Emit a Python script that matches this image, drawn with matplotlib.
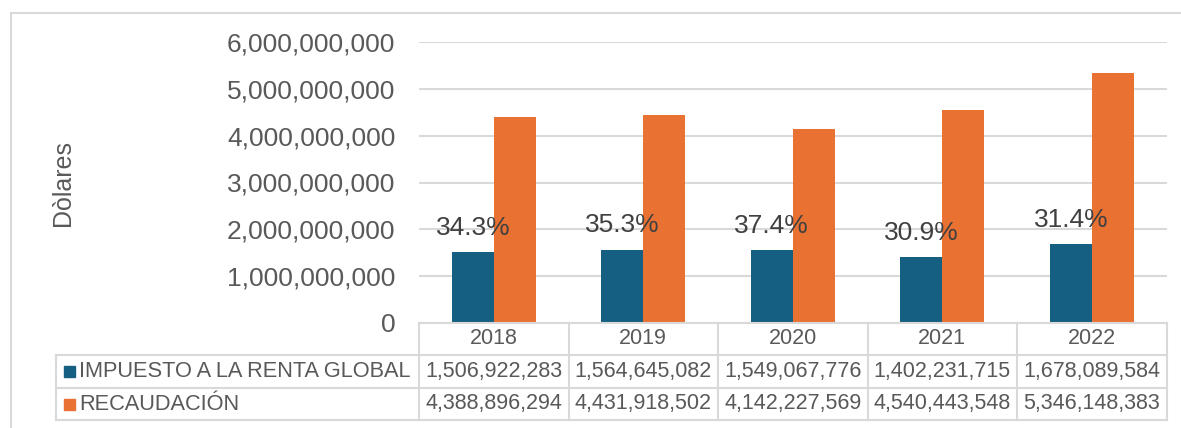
import matplotlib.pyplot as plt
import matplotlib.transforms as mtransforms
from matplotlib.lines import Line2D
from matplotlib.patches import Rectangle

years = ['2018', '2019', '2020', '2021', '2022']
impuesto = [1506922283, 1564645082, 1549067776, 1402231715, 1678089584]
recaudacion = [4388896294, 4431918502, 4142227569, 4540443548, 5346148383]
series_names = ['IMPUESTO A LA RENTA GLOBAL', 'RECAUDACIÓN']
yticks = [0, 1e9, 2e9, 3e9, 4e9, 5e9, 6e9]

BLUE = '#156082'
ORANGE = '#E97132'
GRID = '#D9D9D9'
TXT = '#595959'

plt.rcParams['font.family'] = ['Liberation Sans', 'DejaVu Sans']

W, H = 1181, 428
fig = plt.figure(figsize=(W / 100, H / 100), dpi=100)


def fx(x):
    return x / W


def fy(y):
    return 1 - y / H


# plot area in pixels
left, right, top, bottom = 419, 1166.5, 42, 323
ax = fig.add_axes([fx(left), fy(bottom), fx(right) - fx(left), fy(top) - fy(bottom)])

x = list(range(len(years)))
bw = 0.28
ax.bar([i - bw / 2 for i in x], impuesto, width=bw, color=BLUE, zorder=3)
ax.bar([i + bw / 2 for i in x], recaudacion, width=bw, color=ORANGE, zorder=3)

for i in x:
    pct = impuesto[i] / recaudacion[i] * 100
    ax.annotate(f'{pct:.1f}%', (i - bw / 2, impuesto[i]), xytext=(0, 12.5),
                textcoords='offset points', ha='center', va='baseline',
                fontsize=19, color='#404040', zorder=4)

ax.set_xlim(-0.5, len(years) - 0.5)
ax.set_ylim(0, 6e9)
ax.set_yticks(yticks)
ax.set_yticklabels([f'{int(t):,}' for t in yticks], fontsize=19, color=TXT)
ax.tick_params(axis='y', length=0, pad=17)
ax.set_xticks([])
ax.grid(axis='y', color=GRID, linewidth=1.5, zorder=0)
for s in ax.spines.values():
    s.set_visible(False)

fig.text(fx(63), fy(183), 'Dòlares', rotation=90, ha='center', va='center',
         fontsize=18, color=TXT)

# data table below the plot
row_y = [323, 355, 388, 420]
tbl_left = 56
line_kw = dict(color=GRID, linewidth=1.5, transform=fig.transFigure)
fig.add_artist(Line2D([fx(left), fx(right)], [fy(row_y[0])] * 2, **line_kw))
for yy in row_y[1:]:
    fig.add_artist(Line2D([fx(tbl_left), fx(right)], [fy(yy)] * 2, **line_kw))
fig.add_artist(Line2D([fx(tbl_left)] * 2, [fy(row_y[1]), fy(row_y[3])], **line_kw))

trans = mtransforms.blended_transform_factory(ax.transData, fig.transFigure)
for i in range(len(years) + 1):
    fig.add_artist(Line2D([i - 0.5] * 2, [fy(row_y[0]), fy(row_y[3])],
                          color=GRID, linewidth=1.5, transform=trans))

for i, yr in enumerate(years):
    fig.text(i, fy((row_y[0] + row_y[1]) / 2), yr, transform=trans,
             ha='center', va='center', fontsize=15.5, color=TXT)
    fig.text(i, fy((row_y[1] + row_y[2]) / 2), f'{impuesto[i]:,}', transform=trans,
             ha='center', va='center', fontsize=15.5, color=TXT)
    fig.text(i, fy((row_y[2] + row_y[3]) / 2), f'{recaudacion[i]:,}', transform=trans,
             ha='center', va='center', fontsize=15.5, color=TXT)

for k, (name, col) in enumerate(zip(series_names, [BLUE, ORANGE])):
    yc = (row_y[k + 1] + row_y[k + 2]) / 2
    fig.add_artist(Rectangle((fx(64), fy(yc + 5.5)), fx(11), 11 / H,
                             color=col, transform=fig.transFigure))
    fig.text(fx(79), fy(yc), name, ha='left', va='center', fontsize=15.7, color=TXT)

# chart border
fig.add_artist(Rectangle((fx(11), fy(440)), fx(1200), 427 / H, fill=False,
                         edgecolor=GRID, linewidth=1.5, transform=fig.transFigure))

fig.savefig('out.png', dpi=100)
